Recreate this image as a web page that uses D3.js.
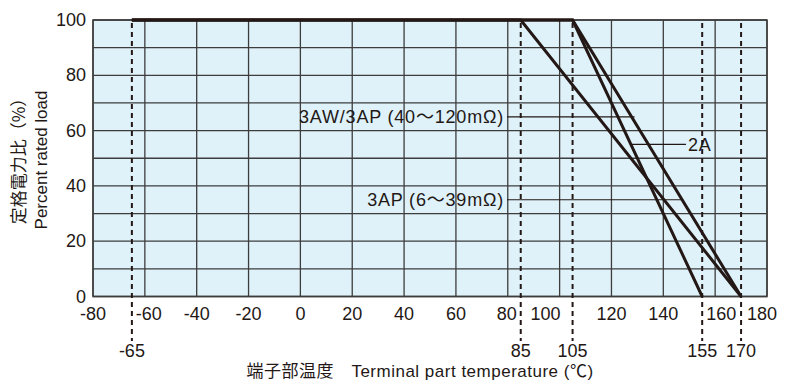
<!DOCTYPE html>
<html>
<head>
<meta charset="utf-8">
<script src="https://cdn.jsdelivr.net/npm/d3@7"></script>
<style>
  html, body { margin: 0; padding: 0; background: #ffffff; }
  svg { display: block; }
  text { font-family: "Liberation Sans", Arial, "Noto Sans CJK JP", sans-serif; fill: #231815; }
</style>
</head>
<body>
<svg id="chart" width="785" height="385"></svg>
<script>
// ---- data ----
const xTicks = [-80, -60, -40, -20, 0, 20, 40, 60, 80, 100, 120, 140, 160, 180];
const yTicks = [0, 20, 40, 60, 80, 100];
const yGrid = [0, 10, 20, 30, 40, 50, 60, 70, 80, 90, 100];
const markTemps = [-65, 85, 105, 155, 170];
const seriesNames = ["3AW/3AP (40～120mΩ)", "2A", "3AP (6～39mΩ)"];
const series3AW = [[-65, 100], [105, 100], [170, 0]];
const series2A = [[-65, 100], [105, 100], [155, 0]];
const series3AP = [[-65, 100], [85, 100], [170, 0]];
const labelLoads = [65, 55, 35];
const xTitle = "端子部温度　Terminal part temperature (℃)";
const yTitleJa = "定格電力比（%）";
const yTitleEn = "Percent rated load";

// ---- layout ----
const svg = d3.select("#chart");
const L = 93, R = 767, T = 20, B = 296.5;
const x = d3.scaleLinear().domain([-80, 180]).range([L, R]);
const y = d3.scaleLinear().domain([0, 100]).range([B, T]);
const ink = "#231815", gridC = "#3d3d3d";

// background
svg.append("rect").attr("x", L).attr("y", T).attr("width", R - L).attr("height", B - T)
  .attr("fill", "#dff2fa");

// grid
const g = svg.append("g");
g.selectAll("line.h").data(yGrid).join("line")
  .attr("x1", L).attr("x2", R).attr("y1", d => y(d)).attr("y2", d => y(d))
  .attr("stroke", gridC).attr("stroke-width", 1.3);
g.selectAll("line.v").data(xTicks).join("line")
  .attr("x1", d => x(d)).attr("x2", d => x(d)).attr("y1", T).attr("y2", B)
  .attr("stroke", gridC).attr("stroke-width", 1.3);
svg.append("rect").attr("x", L).attr("y", T).attr("width", R - L).attr("height", B - T)
  .attr("fill", "none").attr("stroke", gridC).attr("stroke-width", 1.5);

// dashed marker lines
svg.selectAll("line.mark").data(markTemps).join("line")
  .attr("x1", d => x(d)).attr("x2", d => x(d)).attr("y1", T + 3).attr("y2", 341)
  .attr("stroke", ink).attr("stroke-width", 2).attr("stroke-dasharray", "5,4");

// series lines
const line = d3.line().x(d => x(d[0])).y(d => y(d[1]));
[series3AW, series2A, series3AP].forEach(s => {
  svg.append("path").attr("d", line(s)).attr("fill", "none")
    .attr("stroke", ink).attr("stroke-width", 3).attr("stroke-linejoin", "miter");
});

// interpolate temperature on a series for a given load
function tempAt(s, load) {
  for (let i = 0; i < s.length - 1; i++) {
    const [t0, p0] = s[i], [t1, p1] = s[i + 1];
    if ((load <= p0 && load >= p1) && p0 !== p1) return t0 + (p0 - load) / (p0 - p1) * (t1 - t0);
  }
  return s[s.length - 1][0];
}

// annotations
const fs = 18;
const annLS = "0.8px";
// 3AW/3AP (40~120)
{
  const yy = y(labelLoads[0]);
  const xe = x(tempAt(series3AW, labelLoads[0])) + 3;
  svg.append("line").attr("x1", 507).attr("x2", xe).attr("y1", yy).attr("y2", yy)
    .attr("stroke", ink).attr("stroke-width", 1.2);
  svg.append("text").attr("x", 504).attr("y", yy + 6.5).attr("text-anchor", "end")
    .attr("font-size", fs).style("letter-spacing", annLS).text(seriesNames[0]);
}
// 2A
{
  const yy = y(labelLoads[1]);
  const xs = x(tempAt(series2A, labelLoads[1]));
  svg.append("line").attr("x1", xs).attr("x2", 686).attr("y1", yy).attr("y2", yy)
    .attr("stroke", ink).attr("stroke-width", 1.2);
  svg.append("text").attr("x", 688).attr("y", yy + 6.5).attr("text-anchor", "start")
    .attr("font-size", fs).style("letter-spacing", annLS).text(seriesNames[1]);
}
// 3AP (6~39)
{
  const yy = y(labelLoads[2]);
  const xe = x(tempAt(series3AW, labelLoads[2]));
  svg.append("line").attr("x1", 507).attr("x2", xe).attr("y1", yy).attr("y2", yy)
    .attr("stroke", ink).attr("stroke-width", 1.2);
  svg.append("text").attr("x", 504).attr("y", yy + 6.5).attr("text-anchor", "end")
    .attr("font-size", fs).style("letter-spacing", annLS).text(seriesNames[2]);
}

// tick labels
const nudge = { "-60": 4, "100": -14, "160": 6, "180": -5, "80": -1 };
svg.selectAll("text.xt").data(xTicks).join("text")
  .attr("x", d => x(d) + (nudge[d] || 0)).attr("y", 320)
  .attr("text-anchor", "middle").attr("font-size", fs).text(d => d);
svg.selectAll("text.yt").data(yTicks).join("text")
  .attr("x", 86).attr("y", d => y(d) + 6)
  .attr("text-anchor", "end").attr("font-size", fs).text(d => d);
svg.selectAll("text.mk").data(markTemps).join("text")
  .attr("x", d => x(d)).attr("y", 356.5)
  .attr("text-anchor", "middle").attr("font-size", fs).text(d => d);

// axis titles
svg.append("text").attr("x", 420).attr("y", 377).attr("text-anchor", "middle")
  .attr("font-size", 17).style("letter-spacing", "0.5px").text(xTitle);
svg.append("text").attr("transform", "translate(25,157) rotate(-90)")
  .attr("text-anchor", "middle").attr("font-size", 17)
  .style("font-family", "'Noto Sans CJK JP', sans-serif").text(yTitleJa);
svg.append("text").attr("transform", "translate(47,160) rotate(-90)")
  .attr("text-anchor", "middle").attr("font-size", 17).text(yTitleEn);
</script>
</body>
</html>
